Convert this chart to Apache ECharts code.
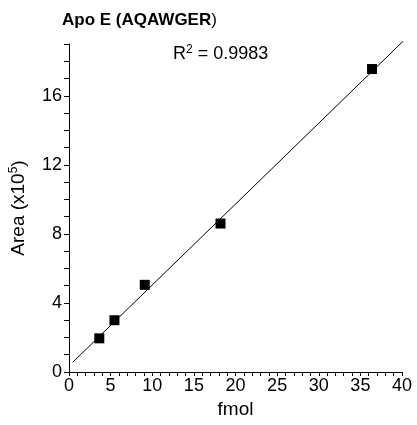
<!DOCTYPE html>
<html>
<head>
<meta charset="utf-8">
<script src="https://cdn.jsdelivr.net/npm/echarts@6/dist/echarts.min.js"></script>
<style>html,body{margin:0;padding:0;background:#fff}#c{width:417px;height:425px}</style>
</head>
<body>
<div id="c"></div>
<script>
const fmol = [3.64, 5.46, 9.1, 18.2, 36.4];
const area = [1.95, 3.0, 5.05, 8.6, 17.55];
const fitX = [0.44, 40.45];
const fitY = [0.56, 19.31];
const FONT = '"Liberation Sans", Arial, sans-serif';

const chart = echarts.init(document.getElementById('c'), null, {renderer: 'canvas'});
chart.setOption({
  animation: false,
  backgroundColor: '#fff',
  title: {
    text: '{b|Apo E (AQAWGER}{n|)}',
    left: 62, top: 12, padding: 0,
    textStyle: {
      rich: {
        b: {fontFamily: FONT, fontSize: 17, fontWeight: 'bold', color: '#000'},
        n: {fontFamily: FONT, fontSize: 17, fontWeight: 'normal', color: '#000'}
      }
    }
  },
  graphic: [{
    type: 'text', left: 173, top: 44,
    style: {
      text: '{a|R}{s|2}{a| = 0.9983}',
      rich: {
        a: {fontFamily: FONT, fontSize: 18, fill: '#000', color: '#000'},
        s: {fontFamily: FONT, fontSize: 12, fill: '#000', color: '#000', padding: [0, 0, 8, 0]}
      }
    }
  }],
  grid: {left: 69, right: 15, top: 44, bottom: 53, outerBoundsMode: 'none', containLabel: false},
  xAxis: {
    type: 'value', min: 0, max: 40, interval: 1,
    name: 'fmol', nameLocation: 'middle', nameGap: 28,
    nameTextStyle: {fontFamily: FONT, fontSize: 19, color: '#000'},
    axisLine: {show: true, onZero: false, lineStyle: {color: '#000', width: 1}},
    axisTick: {show: true, length: 4, lineStyle: {color: '#000'}},
    axisLabel: {fontFamily: FONT, fontSize: 18, color: '#000', margin: 5,
      formatter: v => (v % 5 === 0 ? String(v) : '')},
    splitLine: {show: false}
  },
  yAxis: {
    type: 'value', min: 0, max: 19, interval: 1,
    name: '{a|Area (x10}{s|5}{a|)}', nameLocation: 'middle', nameGap: 40,
    nameTextStyle: {
      rich: {
        a: {fontFamily: FONT, fontSize: 19, color: '#000'},
        s: {fontFamily: FONT, fontSize: 12, color: '#000', padding: [0, 0, 9, 0]}
      }
    },
    axisLine: {show: true, onZero: false, lineStyle: {color: '#000', width: 1}},
    axisTick: {show: true, length: 5, lineStyle: {color: '#000'}},
    axisLabel: {fontFamily: FONT, fontSize: 18, color: '#000', margin: 7,
      formatter: v => (v % 4 === 0 ? String(v) : '')},
    splitLine: {show: false}
  },
  series: [
    {
      type: 'line', data: fitX.map((x, i) => [x, fitY[i]]),
      symbol: 'none', clip: false,
      lineStyle: {color: '#000', width: 1}
    },
    {
      type: 'scatter', data: fmol.map((x, i) => [x, area[i]]),
      symbol: 'rect', symbolSize: 10,
      itemStyle: {color: '#000', opacity: 1}
    }
  ]
});
</script>
</body>
</html>
